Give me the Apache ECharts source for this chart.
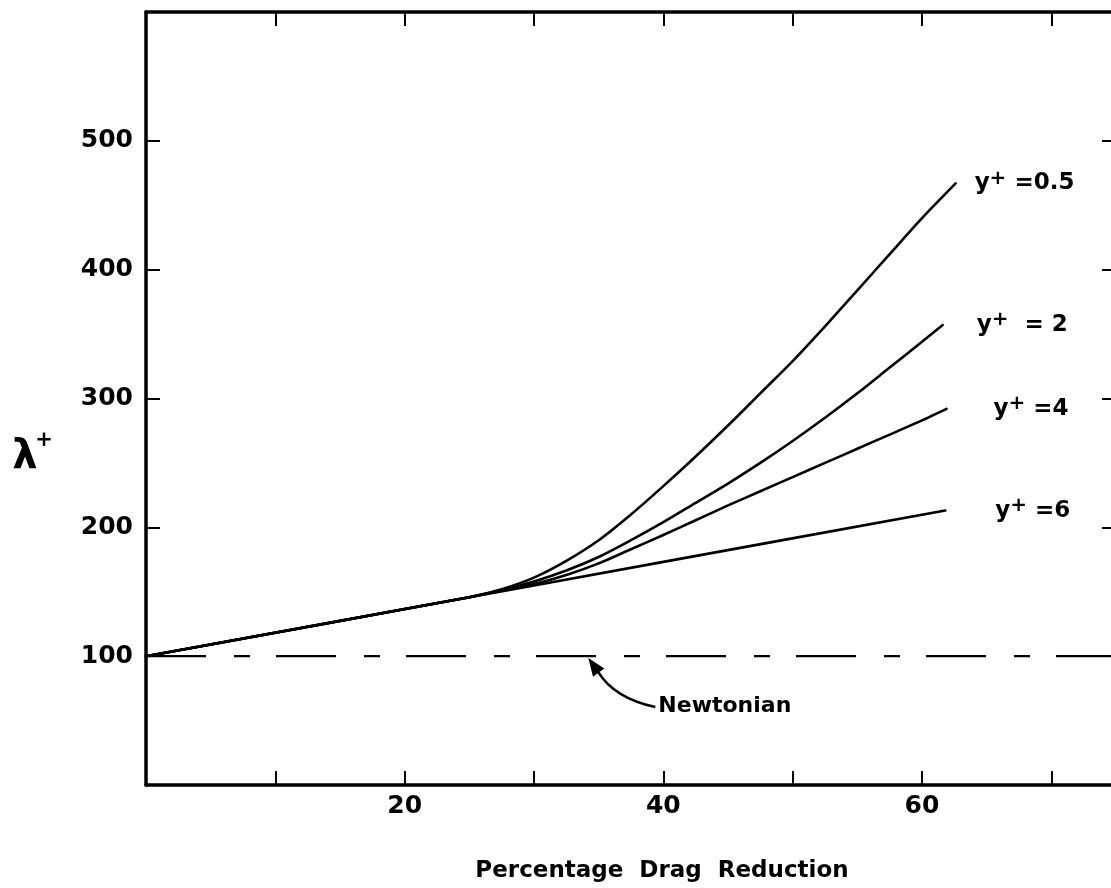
<!DOCTYPE html>
<html>
<head>
<meta charset="utf-8">
<script src="https://cdn.jsdelivr.net/npm/echarts@6/dist/echarts.min.js"></script>
<style>
  html, body { margin: 0; padding: 0; background: #ffffff; }
  #chart { width: 1111px; height: 888px; }
</style>
</head>
<body>
<div id="chart"></div>
<script>
// Percentage drag reduction (x) vs. lambda+ (y) for several wall distances y+
const xLabelled = [20, 40, 60];
const yLabelled = [100, 200, 300, 400, 500];

const curveY05 = [[0, 100], [25, 145.8], [27.5, 152], [30, 161], [32.5, 174], [35, 190],
                  [37.5, 210], [40, 232], [42.5, 255], [45, 279], [47.5, 304], [50, 329], [52.5, 356], [55, 384],
                  [57.5, 412], [60, 440], [62.6, 467]];
const curveY2  = [[0, 100], [25, 145.8], [27.5, 151.3], [30, 158], [32.5, 166.5], [35, 177],
                  [37.5, 190], [40, 204], [42.5, 219], [45, 234], [47.5, 250], [50, 267], [52.5, 285], [55, 304],
                  [57.5, 324], [60, 344], [61.6, 357]];
const curveY4  = [[0, 100], [25, 145.8], [27.5, 151], [30, 156], [32.5, 163], [35, 172],
                  [37.5, 183], [40, 194], [42.5, 205.5], [45, 217], [47.5, 228], [50, 239], [52.5, 250], [55, 261],
                  [57.5, 272], [60, 283], [61.9, 292]];
const curveY6  = [[0, 100], [20, 136.6], [40, 173.2], [61.8, 213]];
const newtonian = [[0, 100], [75, 100]];

const curveNames = ['0.5', '2', '4', '6'];
const curveLabels = [' =0.5', '  = 2', ' =4', ' =6'];

const FONT = 'DejaVu Sans';
const ink = '#000000';

const chart = echarts.init(document.getElementById('chart'), null, { renderer: 'canvas' });

const labelRich = {
  y: { fontFamily: FONT, fontWeight: 'bold', fontSize: 23, lineHeight: 30, color: ink },
  s: { fontFamily: FONT, fontWeight: 'bold', fontSize: 20, lineHeight: 20, color: ink, verticalAlign: 'top' },
  v: { fontFamily: FONT, fontWeight: 'bold', fontSize: 23, lineHeight: 30, color: ink }
};

function curveSeries(data, idx, distance) {
  return {
    name: 'y+ =' + curveNames[idx],
    type: 'line',
    data: data,
    smooth: 0.3,
    showSymbol: false,
    symbol: 'none',
    lineStyle: { color: ink, width: 2.6, join: 'round', cap: 'round' },
    endLabel: {
      show: true,
      distance: distance,
      formatter: '{y|y}{s|+}{v|' + curveLabels[idx] + '}',
      rich: labelRich
    },
    z: 3
  };
}

const frameLine = { show: true, onZero: false, lineStyle: { color: ink, width: 3.5 } };
const innerTick = { show: true, inside: true, length: 14, lineStyle: { color: ink, width: 2 } };
const tickFont = { color: ink, fontFamily: FONT, fontWeight: 'bold', fontSize: 25 };

chart.setOption({
  backgroundColor: '#ffffff',
  animation: false,
  grid: { left: 146, top: 12, width: 970, height: 773, containLabel: false, outerBoundsMode: 'none' },
  xAxis: [
    {
      type: 'value', position: 'bottom', min: 0, max: 75, interval: 10,
      axisLine: frameLine, axisTick: innerTick, splitLine: { show: false },
      axisLabel: Object.assign({
        margin: 9,
        formatter: v => (xLabelled.indexOf(v) >= 0 ? String(v) : '')
      }, tickFont)
    },
    {
      type: 'value', position: 'top', min: 0, max: 75, interval: 10,
      axisLine: frameLine, axisTick: innerTick, splitLine: { show: false },
      axisLabel: { show: false }
    }
  ],
  yAxis: [
    {
      type: 'value', position: 'left', min: 0, max: 600, interval: 100,
      axisLine: frameLine, axisTick: innerTick, splitLine: { show: false },
      axisLabel: Object.assign({
        margin: 13,
        formatter: v => (yLabelled.indexOf(v) >= 0 ? String(v) : '')
      }, tickFont)
    },
    {
      type: 'value', position: 'right', min: 0, max: 600, interval: 100,
      axisLine: frameLine, axisTick: innerTick, splitLine: { show: false },
      axisLabel: { show: false }
    }
  ],
  series: [
    {
      name: 'Newtonian',
      type: 'line',
      data: newtonian,
      showSymbol: false,
      symbol: 'none',
      lineStyle: { color: ink, width: 2.4, type: [60, 28, 16, 26] },
      z: 2
    },
    curveSeries(curveY05, 0, 19),
    curveSeries(curveY2, 1, 34),
    curveSeries(curveY4, 2, 47),
    curveSeries(curveY6, 3, 50)
  ]
});

// Annotations: axis titles, the "Newtonian" note and its curved arrow
const arrowTip = chart.convertToPixel({ gridIndex: 0 }, [34.2, 98.5]);
const tx = arrowTip[0], ty = arrowTip[1];

chart.setOption({
  graphic: [
    {
      type: 'text', x: 25, y: 458, z: 10,
      style: { text: 'λ', fontFamily: FONT, fontWeight: 'bold', fontSize: 40, fill: ink,
               align: 'center', verticalAlign: 'middle' }
    },
    {
      type: 'text', x: 44, y: 441, z: 10,
      style: { text: '+', fontFamily: FONT, fontWeight: 'bold', fontSize: 21, fill: ink,
               align: 'center', verticalAlign: 'middle' }
    },
    {
      type: 'text', x: 662, y: 871, z: 10,
      style: {
        text: 'Percentage  Drag  Reduction', fontFamily: FONT, fontWeight: 'bold', fontSize: 23,
        fill: ink, align: 'center', verticalAlign: 'middle'
      }
    },
    {
      type: 'text', x: tx + 70, y: ty + 48, z: 10,
      style: {
        text: 'Newtonian', fontFamily: FONT, fontWeight: 'bold', fontSize: 22,
        fill: ink, align: 'left', verticalAlign: 'middle'
      }
    },
    {
      type: 'bezierCurve', z: 10,
      shape: { x1: tx + 67, y1: ty + 49, cpx1: tx + 26, cpy1: ty + 40, x2: tx + 10, y2: ty + 14 },
      style: { stroke: ink, lineWidth: 2.6, fill: null }
    },
    {
      type: 'polygon', z: 10,
      shape: { points: [[tx, ty], [tx + 16, ty + 10.5], [tx + 4.7, ty + 18.7]] },
      style: { fill: ink }
    }
  ]
});
</script>
</body>
</html>
